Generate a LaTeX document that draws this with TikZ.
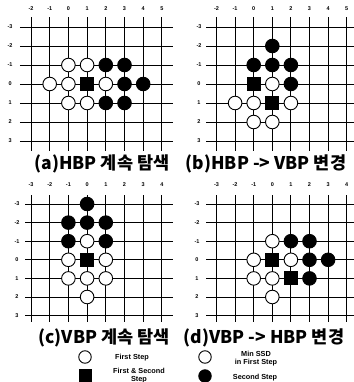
\documentclass[tikz,border=0pt]{standalone}
\usepackage{fontspec}
\setmainfont{Liberation Sans}
\newfontfamily\krfont{Noto Sans CJK KR}
\usetikzlibrary{positioning}

\begin{document}
\begin{tikzpicture}[x=1pt, y=-1pt,
    gline/.style={line width=0.9pt, black},
    num/.style={font=\fontsize{5.5}{6}\selectfont\bfseries, inner sep=0pt},
    stone/.style={circle, draw, line width=0.9pt, minimum size=13.6pt, inner sep=0pt},
    open/.style={stone, fill=white},
    full/.style={stone, fill=black},
    sq/.style={rectangle, fill=black, minimum size=14pt, inner sep=0pt},
    captxt/.style={font=\krfont\bfseries\fontsize{17.5}{18}\selectfont, inner sep=0pt},
    leg/.style={font=\fontsize{7.3}{8}\selectfont\bfseries, align=center, inner sep=0pt}
  ]
  \useasboundingbox (0,0) rectangle (353,382);

  % (a) HBP keeps searching
  \begin{scope}[shift={(68.4pt,-84pt)}, x=18.7pt, y=-19pt]
    \foreach \r in {-3,...,3} \draw[gline] (-2.6,\r) -- (5.6,\r);
    \foreach \c in {-2,...,5} \draw[gline] (\c,-3.5) -- (\c,3.5);
    \foreach \c [count=\i] in {-2,...,5} \node[num] (ax\i) at (\c,-3.95) {\c};
    \foreach \r [count=\i] in {-3,...,3} \node[num] (ay\i) at (-3.12,\r) {\r};
    \foreach \p [count=\i] in {{0,-1},{1,-1},{-1,0},{0,0},{2,0},{0,1},{1,1}}
      \node[open] (ao\i) at (\p) {};
    \foreach \p [count=\i] in {{2,-1},{3,-1},{3,0},{4,0},{2,1},{3,1}}
      \node[full] (af\i) at (\p) {};
    \node[sq] (as1) at (1,0) {};
  \end{scope}

  % (b) HBP -> VBP
  \begin{scope}[shift={(253.7pt,-84pt)}, x=18.6pt, y=-19pt]
    \foreach \r in {-3,...,3} \draw[gline] (-2.56,\r) -- (5.5,\r);
    \foreach \c in {-2,...,5} \draw[gline] (\c,-3.5) -- (\c,3.5);
    \foreach \c [count=\i] in {-2,...,5} \node[num] (bx\i) at (\c,-3.95) {\c};
    \foreach \r [count=\i] in {-3,...,3} \node[num] (by\i) at (-2.94,\r) {\r};
    \foreach \p [count=\i] in {{1,0},{-1,1},{0,1},{2,1},{0,2},{1,2}}
      \node[open] (bo\i) at (\p) {};
    \foreach \p [count=\i] in {{1,-2},{0,-1},{1,-1},{2,-1},{2,0}}
      \node[full] (bf\i) at (\p) {};
    \node[sq] (bs1) at (0,0) {};
    \node[sq] (bs2) at (1,1) {};
  \end{scope}

  % (c) VBP keeps searching
  \begin{scope}[shift={(87.1pt,-259.8pt)}, x=18.7pt, y=-18.6pt]
    \foreach \r in {-3,...,3} \draw[gline] (-3.32,\r) -- (4.6,\r);
    \foreach \c in {-3,...,4} \draw[gline] (\c,-3.48) -- (\c,3.34);
    \foreach \c [count=\i] in {-3,...,4} \node[num] (cx\i) at (\c,-4.02) {\c};
    \foreach \r [count=\i] in {-3,...,3} \node[num] (cy\i) at (-3.75,\r) {\r};
    \foreach \p [count=\i] in {{0,-1},{-1,0},{1,0},{-1,1},{0,1},{1,1},{0,2}}
      \node[open] (co\i) at (\p) {};
    \foreach \p [count=\i] in {{0,-3},{-1,-2},{0,-2},{1,-2},{-1,-1},{1,-1}}
      \node[full] (cf\i) at (\p) {};
    \node[sq] (cs1) at (0,0) {};
  \end{scope}

  % (d) VBP -> HBP
  \begin{scope}[shift={(272.3pt,-259.8pt)}, x=18.6pt, y=-18.6pt]
    \foreach \r in {-3,...,3} \draw[gline] (-3.56,\r) -- (4.4,\r);
    \foreach \c in {-3,...,4} \draw[gline] (\c,-3.48) -- (\c,3.34);
    \foreach \c [count=\i] in {-3,...,4} \node[num] (dx\i) at (\c,-4.02) {\c};
    \foreach \r [count=\i] in {-3,...,3} \node[num] (dy\i) at (-4.05,\r) {\r};
    \foreach \p [count=\i] in {{0,-1},{-1,0},{1,0},{-1,1},{0,1},{0,2}}
      \node[open] (do\i) at (\p) {};
    \foreach \p [count=\i] in {{1,-1},{2,-1},{2,0},{3,0},{2,1}}
      \node[full] (df\i) at (\p) {};
    \node[sq] (ds1) at (0,0) {};
    \node[sq] (ds2) at (1,1) {};
  \end{scope}

  % captions
  \node[captxt] (capa) at (102,164) {(a)HBP 계속 탐색};
  \node[captxt] (capb) at (266,164) {(b)HBP -> VBP 변경};
  \node[captxt] (capc) at (104,338) {(c)VBP 계속 탐색};
  \node[captxt] (capd) at (264,338) {(d)VBP -> HBP 변경};

  % legend
  \node[open, minimum size=12.5pt] (lo1) at (85,357) {};
  \node[leg] (lt1) at (132,358) {First Step};
  \node[sq, minimum size=13pt] (ls1) at (85,375) {};
  \node[leg] (lt2) at (139,375.5) {First \& Second\\Step};
  \node[open, minimum size=12.5pt] (lo2) at (205,357) {};
  \node[leg] (lt3) at (256,358.5) {Min SSD\\in First Step};
  \node[full, minimum size=12.5pt] (lf1) at (205,376) {};
  \node[leg] (lt4) at (255,377.5) {Second Step};
\end{tikzpicture}
\end{document}
